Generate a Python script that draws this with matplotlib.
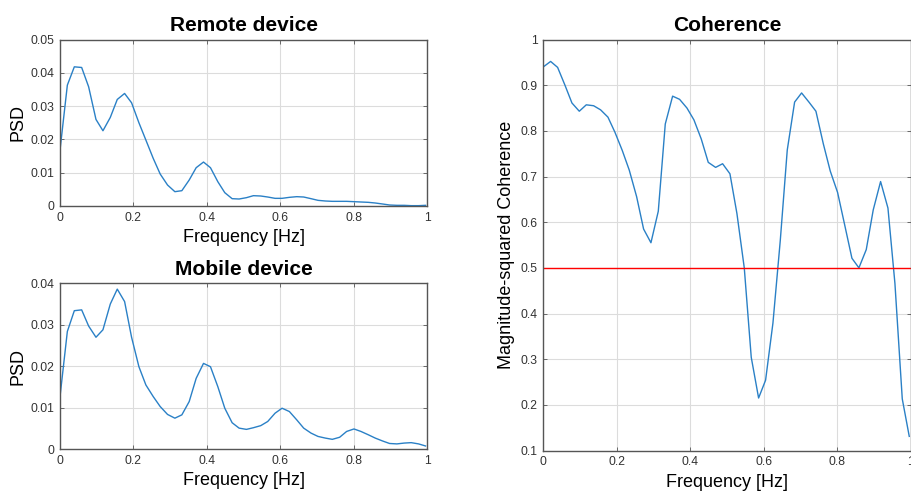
import numpy as np
import matplotlib.pyplot as plt

# ==========================================
# Data
# ==========================================
freq = [0.000, 0.020, 0.039, 0.059, 0.078, 0.098, 0.117, 0.137, 0.156, 0.176,
        0.195, 0.215, 0.234, 0.254, 0.273, 0.293, 0.313, 0.332, 0.352, 0.371,
        0.391, 0.410, 0.430, 0.449, 0.469, 0.488, 0.508, 0.527, 0.547, 0.566,
        0.586, 0.605, 0.625, 0.645, 0.664, 0.684, 0.703, 0.723, 0.742, 0.762,
        0.781, 0.801, 0.820, 0.840, 0.859, 0.879, 0.898, 0.918, 0.938, 0.957,
        0.977, 0.996]

psd_remote = [0.0168, 0.0363, 0.0418, 0.0416, 0.0358, 0.0260, 0.0226, 0.0266, 0.0320, 0.0338,
              0.0310, 0.0250, 0.0198, 0.0143, 0.0096, 0.0063, 0.0043, 0.0046, 0.0078, 0.0115,
              0.0132, 0.0115, 0.0073, 0.0040, 0.0022, 0.0021, 0.0025, 0.0031, 0.0030, 0.0027,
              0.0023, 0.0023, 0.0026, 0.0028, 0.0027, 0.0022, 0.0017, 0.0015, 0.0014, 0.0014,
              0.0014, 0.0013, 0.0012, 0.0011, 0.0009, 0.0006, 0.0003, 0.0002, 0.0002, 0.0001,
              0.0001, 0.0002]

psd_mobile = [0.0127, 0.0284, 0.0334, 0.0336, 0.0297, 0.0270, 0.0288, 0.0350, 0.0386, 0.0356,
              0.0270, 0.0199, 0.0155, 0.0127, 0.0103, 0.0084, 0.0075, 0.0083, 0.0115, 0.0171,
              0.0207, 0.0199, 0.0151, 0.0099, 0.0064, 0.0051, 0.0048, 0.0052, 0.0057, 0.0067,
              0.0087, 0.0099, 0.0091, 0.0071, 0.0051, 0.0039, 0.0031, 0.0027, 0.0024, 0.0029,
              0.0043, 0.0049, 0.0043, 0.0035, 0.0027, 0.0020, 0.0014, 0.0013, 0.0015, 0.0016,
              0.0013, 0.0008]

coherence = [0.940, 0.952, 0.939, 0.900, 0.861, 0.843, 0.857, 0.855, 0.846, 0.830,
             0.797, 0.757, 0.714, 0.656, 0.585, 0.555, 0.624, 0.815, 0.876, 0.869,
             0.850, 0.824, 0.782, 0.731, 0.720, 0.728, 0.706, 0.619, 0.500, 0.304,
             0.215, 0.254, 0.379, 0.560, 0.758, 0.863, 0.883, 0.863, 0.843, 0.772,
             0.712, 0.665, 0.595, 0.521, 0.500, 0.540, 0.627, 0.689, 0.631, 0.466,
             0.213, 0.131]

threshold = 0.5

# ==========================================
# Style
# ==========================================
plt.rcParams['font.family'] = ['Liberation Sans', 'DejaVu Sans']
blue = '#2a80c6'
dark = '#333333'

fig = plt.figure(figsize=(9.12, 4.94), dpi=100)
ax_r = fig.add_axes([0.0658, 0.583, 0.4024, 0.337])
ax_m = fig.add_axes([0.0658, 0.0905, 0.4024, 0.336])
ax_c = fig.add_axes([0.5957, 0.0880, 0.4029, 0.832])


def style(ax):
    ax.grid(True, color='#dcdcdc', lw=0.8)
    ax.set_axisbelow(True)
    for s in ax.spines.values():
        s.set_color('#555555')
        s.set_linewidth(1.0)
    ax.tick_params(direction='in', length=3, width=0.6, color='#555555',
                   labelcolor=dark, labelsize=8.7, top=True, right=True, pad=4)
    ax.set_xlim(0, 1)
    ax.set_xticks([0, 0.2, 0.4, 0.6, 0.8, 1])
    ax.set_xticklabels(['0', '0.2', '0.4', '0.6', '0.8', '1'])
    ax.set_xlabel('Frequency [Hz]', fontsize=13, labelpad=4)


# Remote device PSD
ax_r.plot(freq, psd_remote, color=blue, lw=1)
ax_r.set_ylim(0, 0.05)
ax_r.set_yticks([0, 0.01, 0.02, 0.03, 0.04, 0.05])
ax_r.set_yticklabels(['0', '0.01', '0.02', '0.03', '0.04', '0.05'])
ax_r.set_ylabel('PSD', fontsize=13, labelpad=3)
ax_r.set_title('Remote device', fontsize=15, fontweight='bold', pad=6)
style(ax_r)

# Mobile device PSD
ax_m.plot(freq, psd_mobile, color=blue, lw=1)
ax_m.set_ylim(0, 0.04)
ax_m.set_yticks([0, 0.01, 0.02, 0.03, 0.04])
ax_m.set_yticklabels(['0', '0.01', '0.02', '0.03', '0.04'])
ax_m.set_ylabel('PSD', fontsize=13, labelpad=3)
ax_m.set_title('Mobile device', fontsize=15, fontweight='bold', pad=6)
style(ax_m)

# Coherence
ax_c.plot(freq, coherence, color=blue, lw=1)
ax_c.axhline(threshold, color='#ff0000', lw=1)
ax_c.set_ylim(0.1, 1)
ax_c.set_yticks(np.arange(1, 11) / 10)
ax_c.set_yticklabels(['0.1', '0.2', '0.3', '0.4', '0.5', '0.6', '0.7', '0.8', '0.9', '1'])
ax_c.set_ylabel('Magnitude-squared Coherence', fontsize=13, labelpad=4)
ax_c.set_title('Coherence', fontsize=15, fontweight='bold', pad=6)
style(ax_c)

plt.savefig('out.png', dpi=100)
